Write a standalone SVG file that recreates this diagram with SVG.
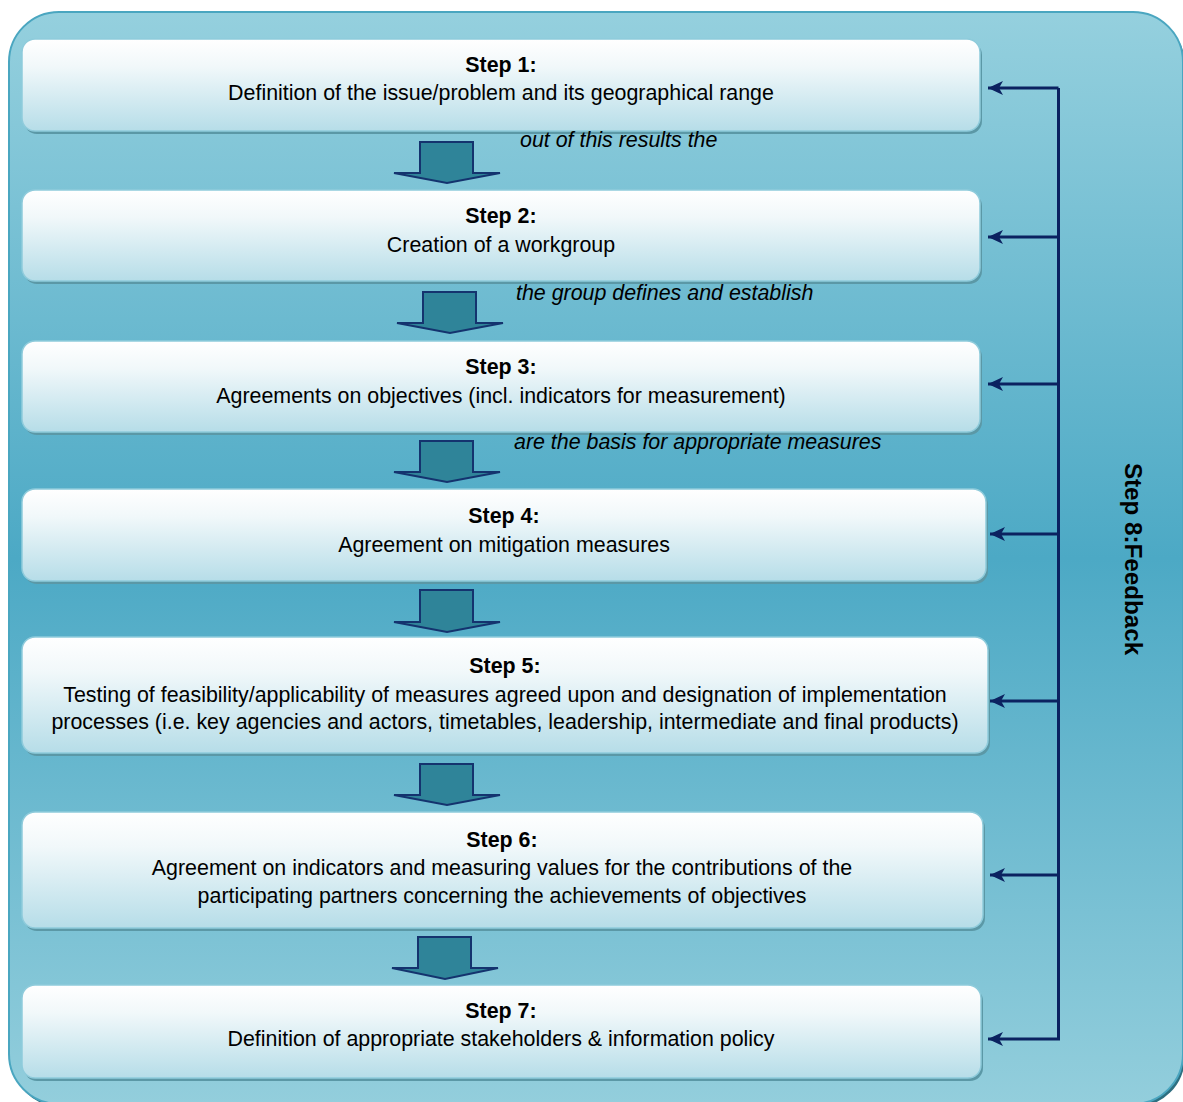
<svg xmlns="http://www.w3.org/2000/svg" width="1183" height="1102" viewBox="0 0 1183 1102">
<defs>
<linearGradient id="bg" x1="0" y1="0" x2="0" y2="1">
<stop offset="0" stop-color="#95d0de"/>
<stop offset="0.5" stop-color="#4ca9c5"/>
<stop offset="1" stop-color="#93cedc"/>
</linearGradient>
<linearGradient id="box" x1="0" y1="0" x2="0" y2="1">
<stop offset="0" stop-color="#ffffff"/>
<stop offset="0.3" stop-color="#f1f8fa"/>
<stop offset="1" stop-color="#b6dde8"/>
</linearGradient>
<marker id="ah" markerWidth="16" markerHeight="16" refX="15" refY="7" orient="auto" markerUnits="userSpaceOnUse">
<path d="M0,0 L15,7 L0,14 L4,7 Z" fill="#0b2260"/>
</marker>
</defs>
<style>
.shadow{fill:#5b98a6}
.box{fill:url(#box);stroke:#8ecbdb;stroke-width:1.5}
.t{font-family:"Liberation Sans",Arial,sans-serif;font-size:21.4px;fill:#000;text-anchor:middle}
.b{font-weight:bold}
.i{font-style:italic;text-anchor:start}
.v{font-size:24.2px}
.down{fill:#2f8499;stroke:#14336e;stroke-width:2;stroke-linejoin:miter}
.fb{fill:none;stroke:#0b2260;stroke-width:3}
</style>
<g id="background">
<rect x="11" y="15" width="1174" height="1092" rx="50" fill="#2e6f80"/>
<rect x="9" y="12" width="1174" height="1092" rx="50" fill="url(#bg)" stroke="#4aa6c0" stroke-width="2"/>
</g>
<g id="step1">
<rect class="shadow" x="24" y="42" width="958" height="92" rx="13"/>
<rect class="box" x="22" y="39" width="958" height="92" rx="13"/>
<text class="t b" x="501" y="72">Step 1:</text>
<text class="t" x="501" y="100">Definition of the issue/problem and its geographical range</text>
</g>
<g id="step2">
<rect class="shadow" x="24" y="193" width="958" height="91" rx="13"/>
<rect class="box" x="22" y="190" width="958" height="91" rx="13"/>
<text class="t b" x="501" y="223">Step 2:</text>
<text class="t" x="501" y="252">Creation of a workgroup</text>
</g>
<g id="step3">
<rect class="shadow" x="24" y="344" width="958" height="91" rx="13"/>
<rect class="box" x="22" y="341" width="958" height="91" rx="13"/>
<text class="t b" x="501" y="374">Step 3:</text>
<text class="t" x="501" y="403">Agreements on objectives (incl. indicators for measurement)</text>
</g>
<g id="step4">
<rect class="shadow" x="24" y="492" width="964" height="92" rx="13"/>
<rect class="box" x="22" y="489" width="964" height="92" rx="13"/>
<text class="t b" x="504" y="523">Step 4:</text>
<text class="t" x="504" y="552">Agreement on mitigation measures</text>
</g>
<g id="step5">
<rect class="shadow" x="24" y="640" width="966" height="116" rx="13"/>
<rect class="box" x="22" y="637" width="966" height="116" rx="13"/>
<text class="t b" x="505" y="673">Step 5:</text>
<text class="t" x="505" y="702">Testing of feasibility/applicability of measures agreed upon and designation of implementation</text>
<text class="t" x="505" y="729">processes (i.e. key agencies and actors, timetables, leadership, intermediate and final products)</text>
</g>
<g id="step6">
<rect class="shadow" x="24" y="815" width="961" height="116" rx="13"/>
<rect class="box" x="22" y="812" width="961" height="116" rx="13"/>
<text class="t b" x="502" y="847">Step 6:</text>
<text class="t" x="502" y="875">Agreement on indicators and measuring values for the contributions of the</text>
<text class="t" x="502" y="903">participating partners concerning the achievements of objectives</text>
</g>
<g id="step7">
<rect class="shadow" x="24" y="988" width="959" height="93" rx="13"/>
<rect class="box" x="22" y="985" width="959" height="93" rx="13"/>
<text class="t b" x="501" y="1018">Step 7:</text>
<text class="t" x="501" y="1046">Definition of appropriate stakeholders &amp; information policy</text>
</g>
<g id="step8">
<text class="t b v" transform="translate(1125,559) rotate(90)" x="0" y="0">Step 8:Feedback</text>
</g>
<g id="connectors">
<path class="down" d="M420,142 H473 V173 H500 L447,183 L394,173 H420 Z"/>
<path class="down" d="M423,292 H476 V323 H503 L450,333 L397,323 H423 Z"/>
<path class="down" d="M420,441 H473 V472 H500 L447,482 L394,472 H420 Z"/>
<path class="down" d="M420,590 H473 V622 H500 L447,632 L394,622 H420 Z"/>
<path class="down" d="M420,764 H473 V795 H500 L447,805 L394,795 H420 Z"/>
<path class="down" d="M418,937 H471 V968 H498 L445,979 L392,968 H418 Z"/>
<path class="fb" d="M1058.5,88 V1039"/>
<path class="fb" d="M1058.5,88 H988" marker-end="url(#ah)"/>
<path class="fb" d="M1058.5,237 H988" marker-end="url(#ah)"/>
<path class="fb" d="M1058.5,384 H988" marker-end="url(#ah)"/>
<path class="fb" d="M1058.5,534 H990" marker-end="url(#ah)"/>
<path class="fb" d="M1058.5,701 H990" marker-end="url(#ah)"/>
<path class="fb" d="M1058.5,875 H990" marker-end="url(#ah)"/>
<path class="fb" d="M1060,1039 H988" marker-end="url(#ah)"/>
<text class="t i" x="520" y="147">out of this results the</text>
<text class="t i" x="516" y="300">the group defines and establish</text>
<text class="t i" x="514" y="449">are the basis for appropriate measures</text>
</g>
</svg>
